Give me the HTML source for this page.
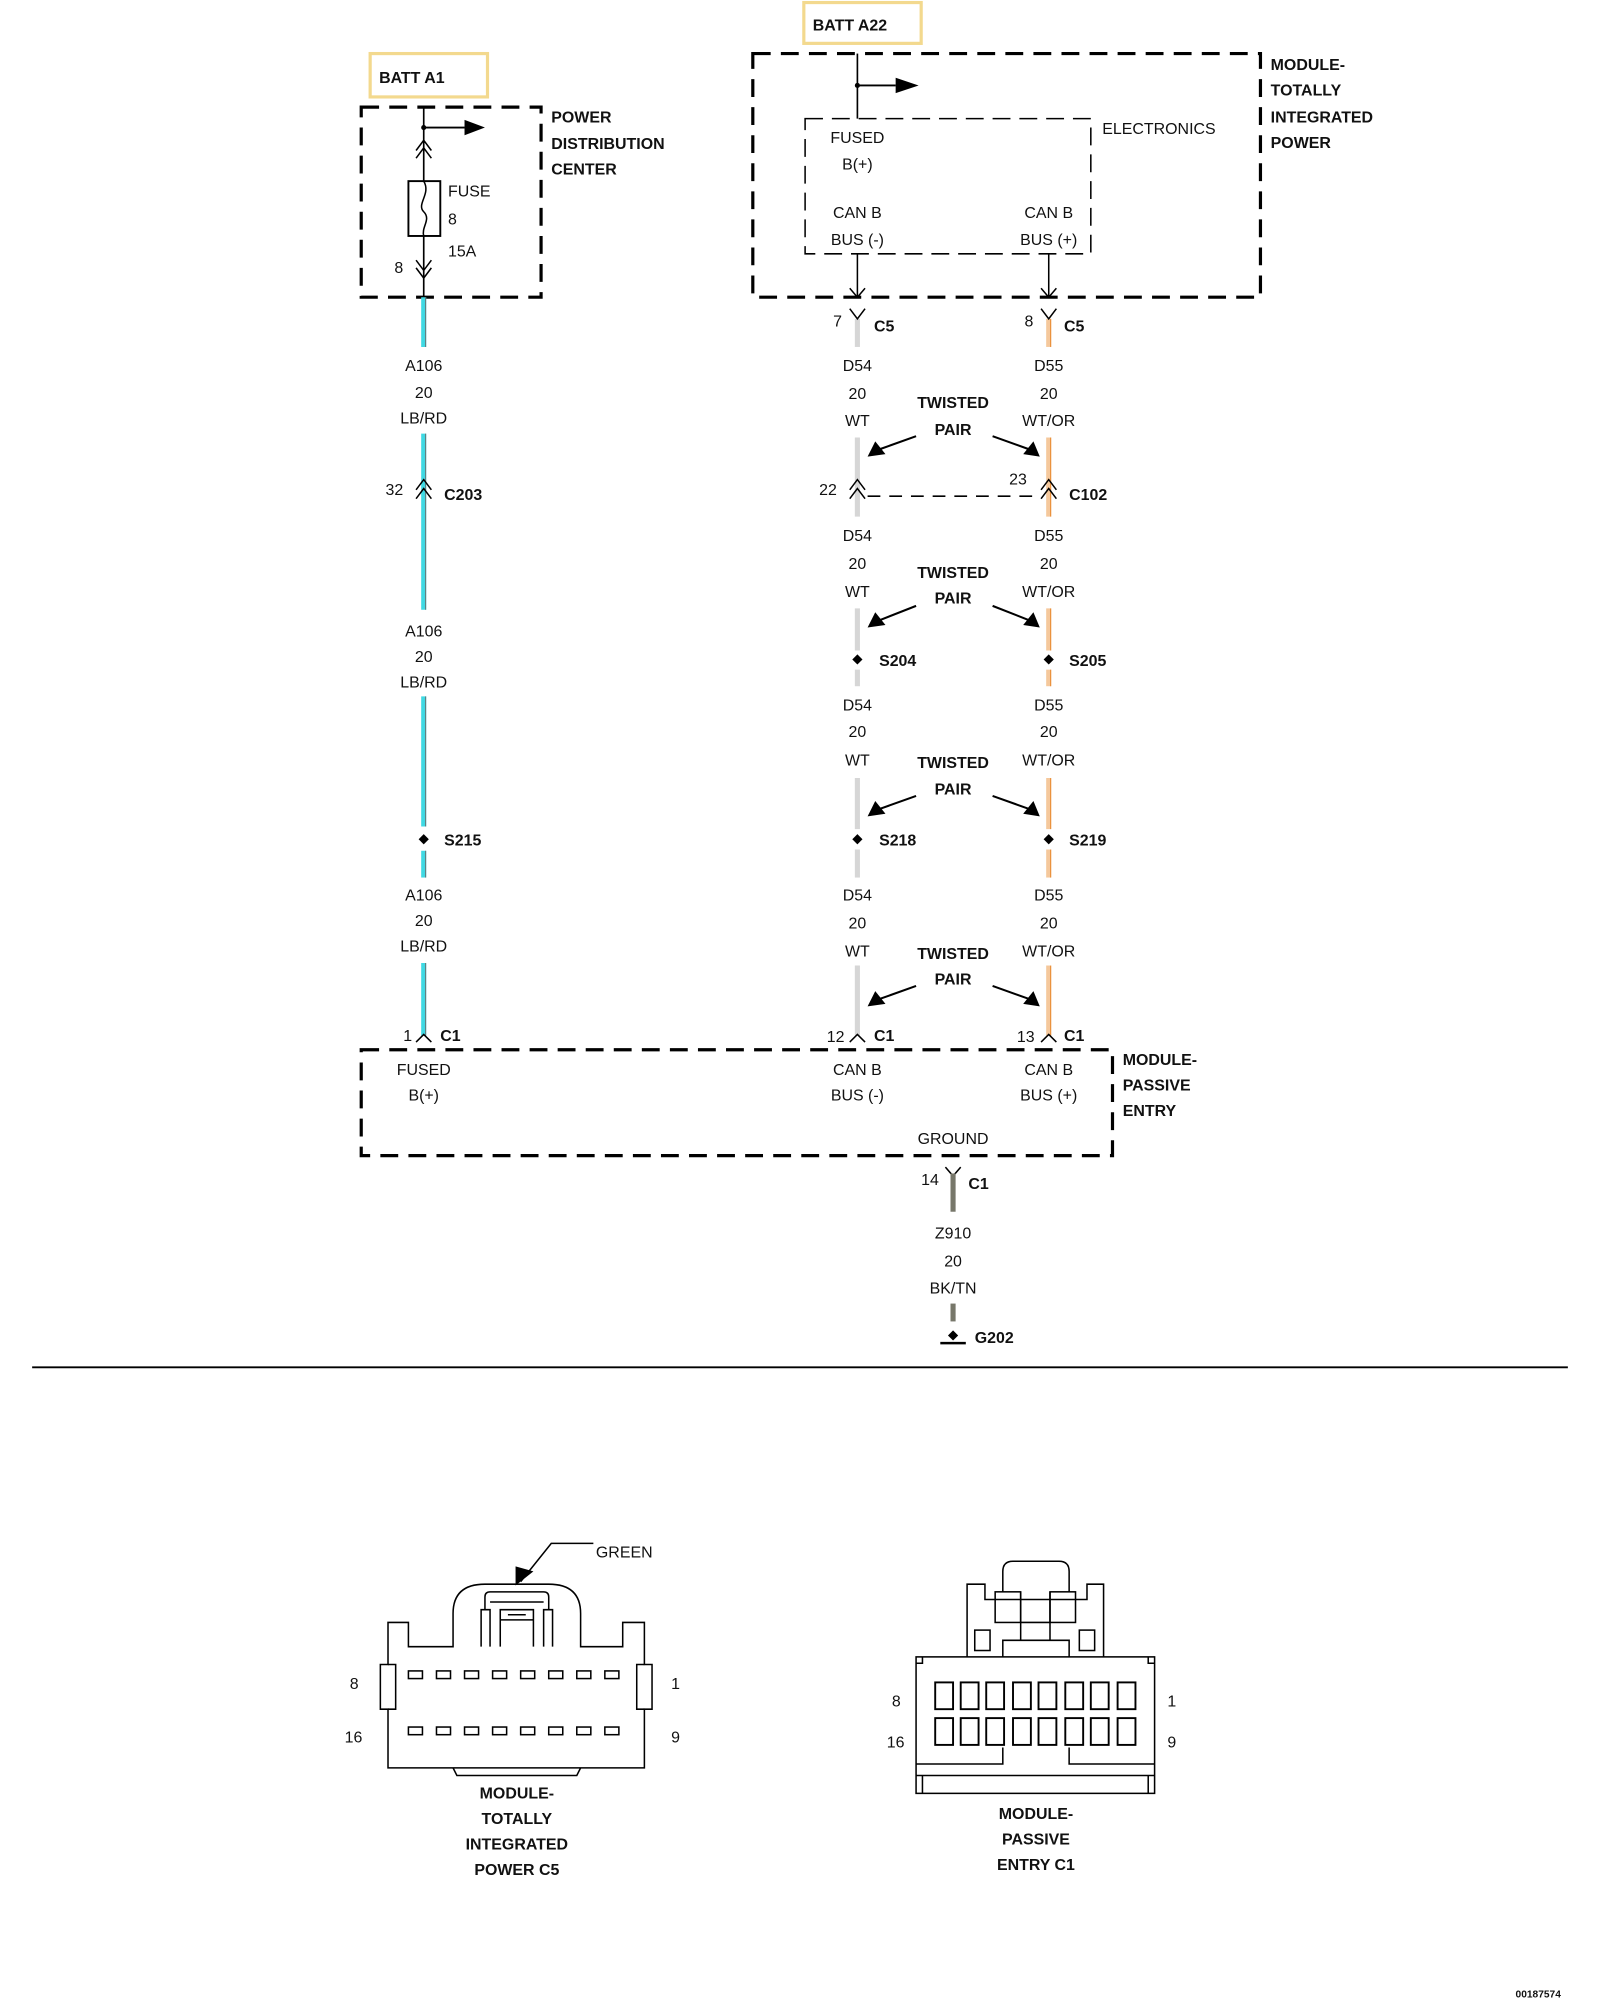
<!DOCTYPE html>
<html><head><meta charset="utf-8"><style>
html,body{margin:0;padding:0;background:#fff}
svg{display:block}
text{font-family:"Liberation Sans",Arial,sans-serif;font-size:12.5px;fill:#111}
.b{font-weight:bold}
.m{text-anchor:middle}
</style></head><body>
<svg width="1600" height="2000" viewBox="0 0 1254 1568" xmlns="http://www.w3.org/2000/svg">
<rect width="1254" height="1568" fill="#fff"/>

<rect x="290" y="42" width="92" height="34" fill="none" stroke="#f3d98e" stroke-width="2.5"/>
<text x="297" y="65" class="b">BATT A1</text>
<rect x="630" y="2" width="92" height="32" fill="none" stroke="#f3d98e" stroke-width="2.5"/>
<text x="637" y="24" class="b">BATT A22</text>

<rect x="283" y="84" width="141" height="149" fill="none" stroke="#000" stroke-width="2.5" stroke-dasharray="14,8"/>
<line x1="332" y1="84" x2="332" y2="233" stroke="#000" stroke-width="1.3"/>
<circle cx="332" cy="100" r="2" fill="#000"/>
<line x1="332" y1="100" x2="364" y2="100" stroke="#000" stroke-width="1.5"/>
<path d="M364,94 L380,100 L364,106z" fill="#000"/>
<path d="M326,118 L332,110 L338,118 M326,124 L332,116 L338,124" fill="none" stroke="#000" stroke-width="1.2"/>
<rect x="320" y="142" width="25" height="43" fill="#fff" stroke="#000" stroke-width="1.5"/>
<path d="M332,142 C338,152 326,160 332,166 C338,172 330,178 332,185" fill="none" stroke="#000" stroke-width="1.2"/>
<path d="M326,204 L332,212 L338,204 M326,210 L332,218 L338,210" fill="none" stroke="#000" stroke-width="1.2"/>
<text x="351" y="154">FUSE</text><text x="351" y="176">8</text><text x="351" y="201">15A</text>
<text x="309" y="214">8</text>
<text x="432" y="96" class="b">POWER</text><text x="432" y="117" class="b">DISTRIBUTION</text><text x="432" y="137" class="b">CENTER</text>

<rect x="590" y="42" width="398" height="191" fill="none" stroke="#000" stroke-width="2.5" stroke-dasharray="14,8"/>
<rect x="631" y="93" width="224" height="106" fill="none" stroke="#000" stroke-width="1.2" stroke-dasharray="14,7"/>
<line x1="672" y1="42" x2="672" y2="93" stroke="#000" stroke-width="1.3"/>
<circle cx="672" cy="67" r="2" fill="#000"/>
<line x1="672" y1="67" x2="702" y2="67" stroke="#000" stroke-width="1.5"/>
<path d="M702,61 L720,67 L702,73z" fill="#000"/>
<text x="864" y="105">ELECTRONICS</text>
<text x="672" y="112" class="m">FUSED</text><text x="672" y="133" class="m">B(+)</text>
<text x="672" y="171" class="m">CAN B</text><text x="672" y="192" class="m">BUS (-)</text>
<text x="822" y="171" class="m">CAN B</text><text x="822" y="192" class="m">BUS (+)</text>
<line x1="672" y1="199" x2="672" y2="233" stroke="#000" stroke-width="1.2"/>
<line x1="822" y1="199" x2="822" y2="233" stroke="#000" stroke-width="1.2"/>
<path d="M666,226 L672,233 L678,226 M816,226 L822,233 L828,226" fill="none" stroke="#000" stroke-width="1.2"/>
<text x="996" y="55" class="b">MODULE-</text><text x="996" y="75" class="b">TOTALLY</text><text x="996" y="96" class="b">INTEGRATED</text><text x="996" y="116" class="b">POWER</text>

<g stroke="#3fd9e3" stroke-width="4">
<line x1="332" y1="233" x2="332" y2="272"/><line x1="332" y1="340" x2="332" y2="478"/>
<line x1="332" y1="546" x2="332" y2="648"/><line x1="332" y1="667" x2="332" y2="688"/>
<line x1="332" y1="755" x2="332" y2="812"/>
</g>
<g stroke="#6a6a6a" stroke-width="0.7">
<line x1="333.5" y1="233" x2="333.5" y2="272"/><line x1="333.5" y1="340" x2="333.5" y2="478"/>
<line x1="333.5" y1="546" x2="333.5" y2="648"/><line x1="333.5" y1="667" x2="333.5" y2="688"/>
<line x1="333.5" y1="755" x2="333.5" y2="812"/>
</g>
<text x="332" y="291" class="m">A106</text><text x="332" y="312" class="m">20</text><text x="332" y="332" class="m">LB/RD</text>
<path d="M326,384 L332,376 L338,384 M326,391 L332,383 L338,391" fill="none" stroke="#000" stroke-width="1.2"/>
<text x="302" y="388">32</text><text x="348" y="392" class="b">C203</text>
<text x="332" y="499" class="m">A106</text><text x="332" y="519" class="m">20</text><text x="332" y="539" class="m">LB/RD</text>
<path d="M332,654 L336,658 L332,662 L328,658z" fill="#000"/>
<text x="348" y="663" class="b">S215</text>
<text x="332" y="706" class="m">A106</text><text x="332" y="726" class="m">20</text><text x="332" y="746" class="m">LB/RD</text>

<g stroke="#d6d6d6" stroke-width="4">
<line x1="672" y1="250" x2="672" y2="272"/><line x1="672" y1="343" x2="672" y2="405"/>
<line x1="672" y1="477" x2="672" y2="510"/><line x1="672" y1="525" x2="672" y2="538"/>
<line x1="672" y1="610" x2="672" y2="650"/><line x1="672" y1="666" x2="672" y2="688"/>
<line x1="672" y1="757" x2="672" y2="812"/>
</g>
<g stroke="#f5c89c" stroke-width="4">
<line x1="822" y1="250" x2="822" y2="272"/><line x1="822" y1="343" x2="822" y2="405"/>
<line x1="822" y1="477" x2="822" y2="510"/><line x1="822" y1="525" x2="822" y2="538"/>
<line x1="822" y1="610" x2="822" y2="650"/><line x1="822" y1="666" x2="822" y2="688"/>
<line x1="822" y1="757" x2="822" y2="812"/>
</g>
<g stroke="#e88a30" stroke-width="0.8">
<line x1="823.5" y1="250" x2="823.5" y2="272"/><line x1="823.5" y1="343" x2="823.5" y2="405"/>
<line x1="823.5" y1="477" x2="823.5" y2="510"/><line x1="823.5" y1="525" x2="823.5" y2="538"/>
<line x1="823.5" y1="610" x2="823.5" y2="650"/><line x1="823.5" y1="666" x2="823.5" y2="688"/>
<line x1="823.5" y1="757" x2="823.5" y2="812"/>
</g>
<path d="M666,242 L672,250 L678,242 M816,242 L822,250 L828,242" fill="none" stroke="#000" stroke-width="1.2"/>
<text x="653" y="256">7</text><text x="685" y="260" class="b">C5</text>
<text x="803" y="256">8</text><text x="834" y="260" class="b">C5</text>

<text x="672" y="291" class="m">D54</text><text x="672" y="313" class="m">20</text><text x="672" y="334" class="m">WT</text>
<text x="822" y="291" class="m">D55</text><text x="822" y="313" class="m">20</text><text x="822" y="334" class="m">WT/OR</text>
<text x="672" y="424" class="m">D54</text><text x="672" y="446" class="m">20</text><text x="672" y="468" class="m">WT</text>
<text x="822" y="424" class="m">D55</text><text x="822" y="446" class="m">20</text><text x="822" y="468" class="m">WT/OR</text>
<text x="672" y="557" class="m">D54</text><text x="672" y="578" class="m">20</text><text x="672" y="600" class="m">WT</text>
<text x="822" y="557" class="m">D55</text><text x="822" y="578" class="m">20</text><text x="822" y="600" class="m">WT/OR</text>
<text x="672" y="706" class="m">D54</text><text x="672" y="728" class="m">20</text><text x="672" y="750" class="m">WT</text>
<text x="822" y="706" class="m">D55</text><text x="822" y="728" class="m">20</text><text x="822" y="750" class="m">WT/OR</text>

<text x="747" y="320" class="m b">TWISTED</text><text x="747" y="341" class="m b">PAIR</text>
<text x="747" y="453" class="m b">TWISTED</text><text x="747" y="473" class="m b">PAIR</text>
<text x="747" y="602" class="m b">TWISTED</text><text x="747" y="623" class="m b">PAIR</text>
<text x="747" y="752" class="m b">TWISTED</text><text x="747" y="772" class="m b">PAIR</text>
<g stroke="#000" stroke-width="1.6" fill="none">
<line x1="718" y1="342" x2="690" y2="352"/><line x1="778" y1="342" x2="806" y2="352"/>
<line x1="718" y1="475" x2="690" y2="486"/><line x1="778" y1="475" x2="806" y2="486"/>
<line x1="718" y1="624" x2="690" y2="634"/><line x1="778" y1="624" x2="806" y2="634"/>
<line x1="718" y1="773" x2="690" y2="783"/><line x1="778" y1="773" x2="806" y2="783"/>
</g>
<g fill="#000">
<path d="M680,358 L686,346 L694,356z"/><path d="M815,358 L802,356 L810,346z"/>
<path d="M680,492 L686,480 L694,490z"/><path d="M815,492 L802,490 L810,480z"/>
<path d="M680,640 L686,628 L694,638z"/><path d="M815,640 L802,638 L810,628z"/>
<path d="M680,789 L686,777 L694,787z"/><path d="M815,789 L802,787 L810,777z"/>
</g>

<path d="M666,384 L672,376 L678,384 M666,391 L672,383 L678,391 M816,384 L822,376 L828,384 M816,391 L822,383 L828,391" fill="none" stroke="#000" stroke-width="1.2"/>
<line x1="680" y1="389" x2="815" y2="389" stroke="#000" stroke-width="1.2" stroke-dasharray="10,7"/>
<text x="642" y="388">22</text><text x="791" y="380">23</text><text x="838" y="392" class="b">C102</text>

<path d="M672,513 L676,517 L672,521 L668,517z M822,513 L826,517 L822,521 L818,517z M672,654 L676,658 L672,662 L668,658z M822,654 L826,658 L822,662 L818,658z" fill="#000"/>
<text x="689" y="522" class="b">S204</text><text x="838" y="522" class="b">S205</text>
<text x="689" y="663" class="b">S218</text><text x="838" y="663" class="b">S219</text>

<path d="M326,817 L332,811 L338,817 M666,817 L672,811 L678,817 M816,817 L822,811 L828,817" fill="none" stroke="#000" stroke-width="1.2"/>
<text x="316" y="816">1</text><text x="345" y="816" class="b">C1</text>
<text x="648" y="817">12</text><text x="685" y="816" class="b">C1</text>
<text x="797" y="817">13</text><text x="834" y="816" class="b">C1</text>

<rect x="283" y="823" width="589" height="83" fill="none" stroke="#000" stroke-width="2.5" stroke-dasharray="14,8"/>
<text x="332" y="843" class="m">FUSED</text><text x="332" y="863" class="m">B(+)</text>
<text x="672" y="843" class="m">CAN B</text><text x="672" y="863" class="m">BUS (-)</text>
<text x="822" y="843" class="m">CAN B</text><text x="822" y="863" class="m">BUS (+)</text>
<text x="747" y="897" class="m">GROUND</text>
<text x="880" y="835" class="b">MODULE-</text><text x="880" y="855" class="b">PASSIVE</text><text x="880" y="875" class="b">ENTRY</text>

<path d="M741,915 L747,922 L753,915" fill="none" stroke="#000" stroke-width="1.2"/>
<line x1="747" y1="920" x2="747" y2="950" stroke="#77776a" stroke-width="4"/>
<line x1="747" y1="1022" x2="747" y2="1036" stroke="#77776a" stroke-width="4"/>
<text x="722" y="929">14</text><text x="759" y="932" class="b">C1</text>
<text x="747" y="971" class="m">Z910</text><text x="747" y="993" class="m">20</text><text x="747" y="1014" class="m">BK/TN</text>
<path d="M747,1043 L751,1047 L747,1051 L743,1047z" fill="#000"/>
<line x1="737" y1="1053" x2="757" y2="1053" stroke="#000" stroke-width="2"/>
<text x="764" y="1053" class="b">G202</text>

<line x1="25" y1="1072" x2="1229" y2="1072" stroke="#000" stroke-width="1.5"/>

<g fill="none" stroke="#000" stroke-width="1.2">
<path d="M304,1386 L304,1340 L298,1340 L298,1305 L304,1305 L304,1272 L320,1272 L320,1291 L355,1291 L355,1265 Q355,1242 380,1242 L430,1242 Q455,1242 455,1265 L455,1291 L488,1291 L488,1272 L505,1272 L505,1305 L511,1305 L511,1340 L505,1340 L505,1386 Z"/>
<path d="M304,1305 L310,1305 L310,1340 L304,1340 M505,1305 L499,1305 L499,1340 L505,1340"/>
<path d="M377,1291 L377,1262 L384,1262 L384,1291 M426,1291 L426,1262 L433,1262 L433,1291 M392,1291 L392,1270 L418,1270 L418,1291 M380,1262 L380,1252 Q380,1248 384,1248 L426,1248 Q430,1248 430,1252 L430,1262 M384,1256 L426,1256 M392,1270 L392,1262 L418,1262 L418,1270 M398,1266 L412,1266"/>
<path d="M355,1386 L358,1392 L452,1392 L455,1386"/>
<path d="M465,1210 L432,1210 L408,1240"/>
</g>
<path d="M404,1243 L404,1228 L418,1232z" fill="#000"/>
<g fill="#fff" stroke="#000" stroke-width="1.2">
<rect x="320" y="1310" width="11" height="6"/><rect x="342" y="1310" width="11" height="6"/><rect x="364" y="1310" width="11" height="6"/><rect x="386" y="1310" width="11" height="6"/><rect x="408" y="1310" width="11" height="6"/><rect x="430" y="1310" width="11" height="6"/><rect x="452" y="1310" width="11" height="6"/><rect x="474" y="1310" width="11" height="6"/>
<rect x="320" y="1354" width="11" height="6"/><rect x="342" y="1354" width="11" height="6"/><rect x="364" y="1354" width="11" height="6"/><rect x="386" y="1354" width="11" height="6"/><rect x="408" y="1354" width="11" height="6"/><rect x="430" y="1354" width="11" height="6"/><rect x="452" y="1354" width="11" height="6"/><rect x="474" y="1354" width="11" height="6"/>
</g>
<text x="467" y="1221">GREEN</text>
<text x="274" y="1324">8</text><text x="270" y="1366">16</text><text x="526" y="1324">1</text><text x="526" y="1366">9</text>
<text x="405" y="1410" class="m b">MODULE-</text><text x="405" y="1430" class="m b">TOTALLY</text><text x="405" y="1450" class="m b">INTEGRATED</text><text x="405" y="1470" class="m b">POWER C5</text>

<g fill="none" stroke="#000" stroke-width="1.2">
<rect x="718" y="1299" width="187" height="107"/>
<path d="M718,1383 L786,1383 L786,1370 M905,1383 L838,1383 L838,1370 M718,1392 L905,1392 M723,1392 L723,1406 M900,1392 L900,1406 M718,1304 L723,1304 L723,1299 M905,1304 L900,1304 L900,1299"/>
<path d="M758,1299 L758,1242 L772,1242 L772,1254 L852,1254 L852,1242 L865,1242 L865,1299 M786,1299 L786,1286 L838,1286 L838,1299 M786,1248 L786,1232 Q786,1224 794,1224 L830,1224 Q838,1224 838,1232 L838,1248 M800,1248 L800,1286 M823,1248 L823,1286"/>
<rect x="780" y="1248" width="20" height="24"/><rect x="823" y="1248" width="20" height="24"/>
<path d="M800,1272 L823,1272"/>
<rect x="764" y="1278" width="12" height="16"/><rect x="846" y="1278" width="12" height="16"/>
</g>
<g fill="#fff" stroke="#000" stroke-width="1.5">
<rect x="733" y="1319" width="14" height="21"/><rect x="753" y="1319" width="14" height="21"/><rect x="773" y="1319" width="14" height="21"/><rect x="794" y="1319" width="14" height="21"/><rect x="814" y="1319" width="14" height="21"/><rect x="835" y="1319" width="14" height="21"/><rect x="855" y="1319" width="14" height="21"/><rect x="876" y="1319" width="14" height="21"/>
<rect x="733" y="1347" width="14" height="21"/><rect x="753" y="1347" width="14" height="21"/><rect x="773" y="1347" width="14" height="21"/><rect x="794" y="1347" width="14" height="21"/><rect x="814" y="1347" width="14" height="21"/><rect x="835" y="1347" width="14" height="21"/><rect x="855" y="1347" width="14" height="21"/><rect x="876" y="1347" width="14" height="21"/>
</g>
<text x="699" y="1338">8</text><text x="695" y="1370">16</text><text x="915" y="1338">1</text><text x="915" y="1370">9</text>
<text x="812" y="1426" class="m b">MODULE-</text><text x="812" y="1446" class="m b">PASSIVE</text><text x="812" y="1466" class="m b">ENTRY C1</text>

<text x="1188" y="1566" class="b" style="font-size:8px">00187574</text>
</svg>
</body></html>
